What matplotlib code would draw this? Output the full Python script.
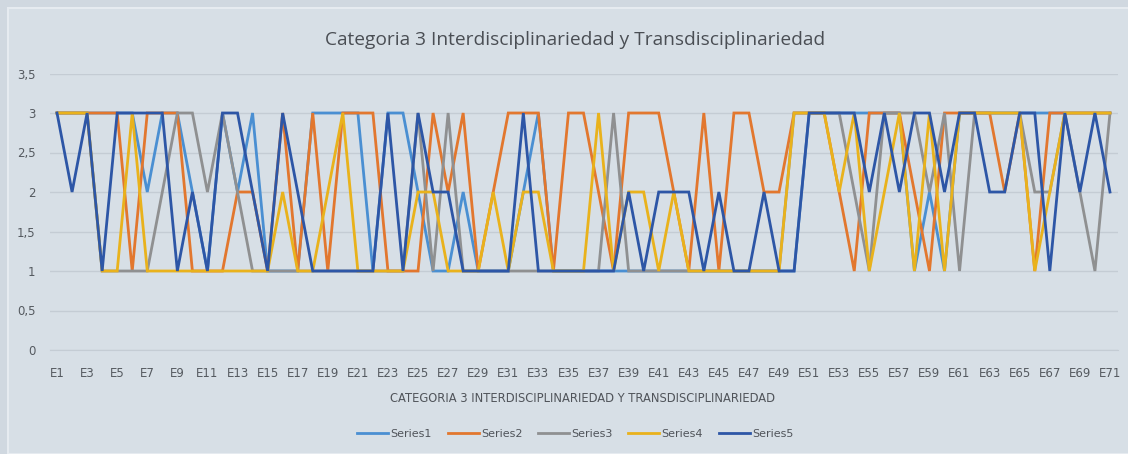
import matplotlib
matplotlib.use("Agg")
import matplotlib.pyplot as plt
from matplotlib.patches import Rectangle

categories = ["E%d" % i for i in range(1, 72)]

series1 = [3, 3, 3, 3, 3, 3, 2, 3, 3, 2, 1, 3,
           2, 3, 1, 1, 1, 3, 3, 3, 3, 1, 3, 3,
           2, 1, 1, 2, 1, 1, 1, 2, 3, 1, 1,
           1, 1, 1, 1, 1, 1, 1, 1, 1, 1, 1, 1,
           1, 1, 1, 3, 3, 3, 3, 3, 3, 3, 1,
           2, 1, 3, 3, 3, 3, 3, 3, 3, 3, 3, 3, 3]
series2 = [3, 3, 3, 3, 3, 1, 3, 3, 3, 1, 1, 1,
           2, 2, 1, 3, 1, 3, 1, 3, 3, 3, 1, 1,
           1, 3, 2, 3, 1, 2, 3, 3, 3, 1, 3,
           3, 2, 1, 3, 3, 3, 2, 1, 3, 1, 3, 3,
           2, 2, 3, 3, 3, 2, 1, 3, 3, 3, 2,
           1, 3, 3, 3, 3, 2, 3, 1, 3, 3, 3, 3, 3]
series3 = [3, 3, 3, 1, 1, 1, 1, 2, 3, 3, 2, 3,
           2, 1, 1, 1, 1, 1, 1, 1, 1, 1, 1, 1,
           3, 1, 3, 1, 1, 1, 1, 1, 1, 1, 1,
           1, 1, 3, 1, 1, 1, 1, 1, 1, 1, 1, 1,
           1, 1, 3, 3, 3, 3, 2, 1, 3, 3, 3,
           2, 3, 1, 3, 3, 3, 3, 2, 2, 3, 2, 1, 3]
series4 = [3, 3, 3, 1, 1, 3, 1, 1, 1, 1, 1, 1,
           1, 1, 1, 2, 1, 1, 2, 3, 1, 1, 1, 1,
           2, 2, 1, 1, 1, 2, 1, 2, 2, 1, 1,
           1, 3, 1, 2, 2, 1, 2, 1, 1, 1, 1, 1,
           1, 1, 3, 3, 3, 2, 3, 1, 2, 3, 1,
           3, 1, 3, 3, 3, 3, 3, 1, 2, 3, 3, 3, 3]
series5 = [3, 2, 3, 1, 3, 3, 3, 3, 1, 2, 1,
           3, 3, 2, 1, 3, 2, 1, 1, 1, 1, 1, 3, 1,
           3, 2, 2, 1, 1, 1, 1, 3, 1, 1, 1,
           1, 1, 1, 2, 1, 2, 2, 2, 1, 2, 1, 1,
           2, 1, 1, 3, 3, 3, 3, 2, 3, 2, 3,
           3, 2, 3, 3, 2, 2, 3, 3, 1, 3, 2, 3, 2]

series = [("Series1", series1, "#4a8fd2"),
          ("Series2", series2, "#e2772e"),
          ("Series3", series3, "#8f9091"),
          ("Series4", series4, "#e9b21c"),
          ("Series5", series5, "#2d56a6")]

fig = plt.figure(figsize=(11.28, 4.54), dpi=100, facecolor="#d0d8e0")
# chart area panel, kept behind the axes
fig.patches.append(Rectangle((8 / 1128, 0), 1, 1 - 8 / 454, transform=fig.transFigure,
                             facecolor="#d7dfe6", edgecolor="#e6ebf0", linewidth=1.5,
                             zorder=-10))

ax = fig.add_axes([49.5 / 1128, 1 - 350 / 454, 1068 / 1128, 276.5 / 454])
ax.set_facecolor("none")

x = list(range(len(categories)))
for name, vals, color in series:
    ax.plot(x, vals, color=color, linewidth=2.0, label=name, solid_joinstyle="miter")

ax.set_xlim(-0.5, len(categories) - 0.5)
ax.set_ylim(0, 3.5)
ax.set_yticks([0, 0.5, 1, 1.5, 2, 2.5, 3, 3.5])
ax.set_yticklabels(["0", "0,5", "1", "1,5", "2", "2,5", "3", "3,5"])
ax.set_xticks(x[::2])
ax.set_xticklabels(categories[::2])
ax.grid(axis="y", color="#c4ccd4", linewidth=1)
ax.set_axisbelow(True)
for s in ax.spines.values():
    s.set_visible(False)
ax.spines["bottom"].set_visible(True)
ax.spines["bottom"].set_color("#c4ccd4")
ax.tick_params(axis="x", length=0, labelsize=8.5, colors="#555a60", pad=12)
ax.tick_params(axis="y", length=0, labelsize=8.5, colors="#555a60", pad=10)

fig.text(0.51, 1 - 40 / 454, "Categoria 3 Interdisciplinariedad y Transdisciplinariedad",
         ha="center", va="center", fontsize=13.8, color="#4a4e54", family="Open Sans")
fig.text(0.516, 1 - 399 / 454, "CATEGORIA 3 INTERDISCIPLINARIEDAD Y TRANSDISCIPLINARIEDAD",
         ha="center", va="center", fontsize=8.3, color="#50545a")

fig.legend(loc="center", bbox_to_anchor=(0.51, 1 - 434 / 454), ncol=5, frameon=False,
           fontsize=8, labelcolor="#50545a", handlelength=2.8, columnspacing=1.4,
           handletextpad=0.2)

fig.savefig("out.png", dpi=100, facecolor=fig.get_facecolor())
